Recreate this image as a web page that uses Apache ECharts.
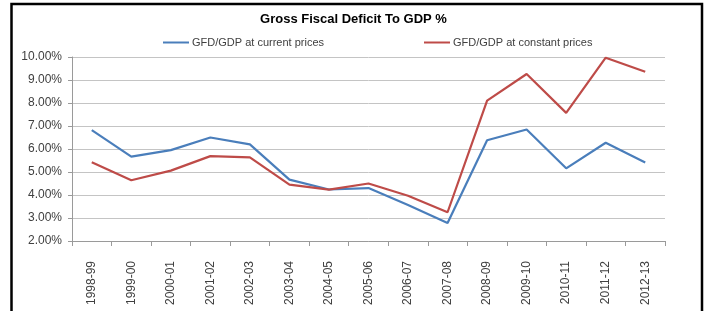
<!DOCTYPE html>
<html>
<head>
<meta charset="utf-8">
<script src="https://cdn.jsdelivr.net/npm/echarts@6/dist/echarts.min.js"></script>
<style>
html,body{margin:0;padding:0;background:#fff;}
#main{width:707px;height:311px;}
</style>
</head>
<body>
<div id="main"></div>
<script>
// 年度
var years = ['1998-99','1999-00','2000-01','2001-02','2002-03','2003-04','2004-05','2005-06',
	'2006-07','2007-08','2008-09','2009-10','2010-11','2011-12','2012-13'];
// GFD/GDP 当前价格
var currentPrices = [6.82,5.67,5.95,6.50,6.20,4.67,4.24,4.30,3.57,2.78,6.38,6.85,5.16,6.27,5.41];
// GFD/GDP 不变价格
var constantPrices = [5.42,4.64,5.06,5.69,5.64,4.45,4.23,4.50,3.97,3.25,8.10,9.26,7.57,9.97,9.36];
var seriesNames = ['GFD/GDP at current prices','GFD/GDP at constant prices'];

var colors = [
	'#4a7ebb',   // 蓝 current
	'#be4b48',   // 红 constant
	'#404040',   // 字
	'#c4c4c4'    // 网格线
];

var chart = echarts.init(document.getElementById('main'));
chart.setOption({
	animation: false,
	backgroundColor: '#fff',
	title: {
		text: 'Gross Fiscal Deficit To GDP %',
		left: 'center', top: 8,
		textStyle: { fontFamily: 'Liberation Sans', fontSize: 13, fontWeight: 'bold', color: '#000' }
	},
	graphic: [{  // 外框
		type: 'rect',
		shape: { x: 11.5, y: 4, width: 690.5, height: 330 },
		style: { fill: 'none', stroke: '#000', lineWidth: 2.5 }
	}],
	legend: [{
		data: [seriesNames[0]],
		left: 158, top: 32,
		itemWidth: 26, itemHeight: 2, itemGap: 4,
		icon: 'rect',
		textStyle: { fontFamily: 'Liberation Sans', fontSize: 11, color: colors[2], padding: [0,0,0,-2] }
	},{
		data: [seriesNames[1]],
		left: 419, top: 32,
		itemWidth: 26, itemHeight: 2, itemGap: 4,
		icon: 'rect',
		textStyle: { fontFamily: 'Liberation Sans', fontSize: 11, color: colors[2], padding: [0,0,0,-2] }
	}],
	grid: { left: 72, right: 42, top: 57, bottom: 70 },
	xAxis: {
		type: 'category',
		data: years,
		boundaryGap: true,
		axisLine: { lineStyle: { color: '#9a9a9a', width: 1 } },
		axisTick: { show: true, length: 5, interval: 0, lineStyle: { color: '#9a9a9a' } },
		axisLabel: {
			rotate: 90, interval: 0, margin: 20,
			fontFamily: 'Liberation Sans', fontSize: 12, color: colors[2]
		}
	},
	yAxis: {
		type: 'value',
		min: 2, max: 10, interval: 1,
		axisLine: { show: true, lineStyle: { color: '#9a9a9a', width: 1 } },
		axisTick: { show: true, length: 4, lineStyle: { color: '#9a9a9a' } },
		splitLine: { lineStyle: { color: colors[3], width: 1 } },
		axisLabel: {
			margin: 10,
			fontFamily: 'Liberation Sans', fontSize: 12, color: colors[2],
			formatter: function (v) { return v.toFixed(2) + '%'; }
		}
	},
	series: [{
		name: seriesNames[0],
		type: 'line',
		data: currentPrices,
		symbol: 'none',
		color: colors[0],
		lineStyle: { color: colors[0], width: 2.2 }
	},{
		name: seriesNames[1],
		type: 'line',
		data: constantPrices,
		symbol: 'none',
		color: colors[1],
		lineStyle: { color: colors[1], width: 2.2 }
	}]
});
</script>
</body>
</html>
